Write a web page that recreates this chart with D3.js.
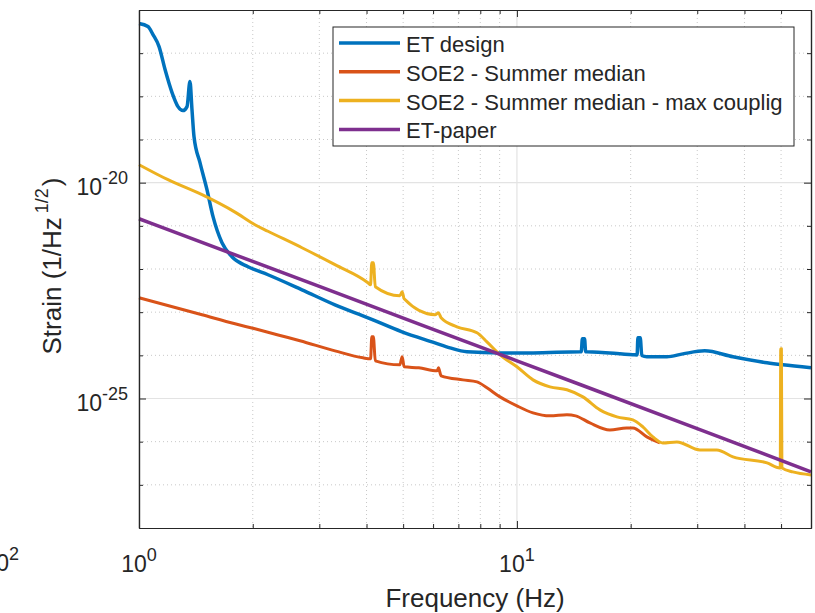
<!DOCTYPE html>
<html>
<head>
<meta charset="utf-8">
<script src="https://cdn.jsdelivr.net/npm/d3@7"></script>
<style>
  body { margin: 0; background: #fff; }
  svg text { font-family: "Liberation Sans", Arial, Helvetica, sans-serif; fill: #262626; }
</style>
</head>
<body>
<svg id="chart" width="815" height="613"></svg>
<script>
// ET design
const etFreq = [1.00, 1.056, 1.089, 1.13, 1.172, 1.223, 1.268, 1.307, 1.34, 1.364, 1.381, 1.398, 1.45, 1.513, 1.57, 1.658, 1.762, 1.943, 2.194, 2.699, 3.30, 4.035, 4.964, 6.07, 6.65, 7.37, 9.02, 11.03, 14.68, 14.8, 14.9, 15.1, 15.2, 15.32, 20.27, 20.8, 20.9, 21.2, 21.4, 22.07, 24.94, 27.5, 31.4, 37.3, 45.9, 50.5, 60];
const etDesign = [4.87e-17, 4.14e-17, 2.70e-17, 1.42e-17, 4.17e-18, 1.22e-18, 5.78e-19, 4.67e-19, 5.78e-19, 2.20e-18, 4.93e-19, 1.17e-19, 2.91e-20, 6.89e-21, 1.63e-21, 4.06e-22, 1.92e-22, 1.13e-22, 7.36e-23, 3.30e-23, 1.48e-23, 7.41e-24, 3.51e-24, 1.95e-24, 1.49e-24, 1.21e-24, 1.14e-24, 1.14e-24, 1.21e-24, 1.21e-24, 2.42e-24, 2.42e-24, 1.21e-24, 1.21e-24, 1.03e-24, 1.02e-24, 2.55e-24, 2.55e-24, 9.9e-25, 9.24e-25, 9.24e-25, 1.08e-24, 1.27e-24, 9.24e-25, 6.71e-25, 6.03e-25, 5.14e-25];

// SOE2 - Summer median
const medFreq = [1.0, 1.468, 1.795, 2.027, 2.434, 2.666, 3.30, 3.913, 4.10, 4.13, 4.17, 4.22, 4.90, 4.97, 5.03, 5.5, 6.15, 6.2, 6.3, 7.195, 7.84, 8.33, 9.02, 10.0, 11.03, 12.23, 13.56, 14.3, 15.6, 17.62, 19.5, 20.27, 22.07, 23.89];
const medValues = [2.16e-23, 8.7e-24, 5.38e-24, 4.12e-24, 2.69e-24, 2.17e-24, 1.27e-24, 8.75e-25, 8.30e-25, 2.69e-24, 2.69e-24, 7.46e-25, 6.03e-25, 9.24e-25, 5.42e-25, 5.14e-25, 4.38e-25, 5.14e-25, 3.35e-25, 2.70e-25, 2.43e-25, 1.77e-25, 1.09e-25, 6.76e-26, 4.65e-26, 3.96e-26, 4.18e-26, 3.96e-26, 2.72e-26, 1.87e-26, 2.08e-26, 2.08e-26, 1.29e-26, 9.37e-27];

// SOE2 - Summer median - max couplig
const maxFreq = [1.0, 1.193, 1.468, 1.795, 2.027, 2.194, 2.699, 3.30, 4.035, 4.10, 4.13, 4.17, 4.22, 4.90, 4.97, 5.03, 6.07, 6.2, 6.3, 6.94, 7.84, 8.33, 9.02, 10.0, 11.03, 12.23, 13.56, 14.95, 16.58, 18.39, 20.27, 21.54, 22.9, 24.33, 26.5, 30.5, 33.8, 37.3, 45.9, 49.6, 49.75, 49.9, 50.1, 50.25, 53.7, 60];
const maxValues = [2.61e-20, 1.17e-20, 5.27e-21, 2.08e-21, 1.06e-21, 7.50e-22, 3.11e-22, 1.26e-22, 4.80e-23, 4.3e-23, 1.40e-22, 1.40e-22, 3.88e-23, 2.40e-23, 2.97e-23, 2.04e-23, 8.7e-24, 9.68e-24, 7.41e-24, 4.58e-24, 3.33e-24, 2.06e-24, 1.03e-24, 5.42e-25, 2.70e-25, 1.86e-25, 1.59e-25, 1.09e-25, 5.46e-26, 3.75e-26, 3.20e-26, 2.20e-26, 1.29e-26, 9.37e-27, 9.88e-27, 6.44e-27, 6.44e-27, 4.44e-27, 3.22e-27, 2.47e-27, 2.47e-27, 1.42e-24, 1.42e-24, 2.47e-27, 1.99e-27, 1.70e-27];

// ET-paper
const paperFreq = [1, 3, 10, 30, 60];
const paperValues = [1.46e-21, 3.94e-23, 7.46e-25, 2.01e-26, 2.0e-27];

const seriesNames = ["ET design", "SOE2 - Summer median", "SOE2 - Summer median - max couplig", "ET-paper"];
const seriesColors = ["#0072BD", "#D95319", "#EDB120", "#7E2F8E"];

const xMajor = [1, 10];
const xMinor = [2, 3, 4, 5, 6, 7, 8, 9, 20, 30, 40, 50];
const yMajor = [1e-25, 1e-20];
const yMinor = [1e-27, 1e-26, 1e-24, 1e-23, 1e-22, 1e-21, 1e-19, 1e-18, 1e-17];
const xTickExp = ["0", "1"];
const yTickExp = ["-25", "-20"];

const svg = d3.select("#chart");
const pLeft = 139, pRight = 811, pTop = 10, pBottom = 528;

const x = d3.scaleLog().domain([1, 60]).range([pLeft, pRight]);
const y = d3.scaleLog().domain([1e-28, 1e-16]).range([pBottom, pTop]);

// grid
const grid = svg.append("g");
grid.selectAll(".xminor").data(xMinor).enter().append("line")
  .attr("x1", d => x(d)).attr("x2", d => x(d)).attr("y1", pTop).attr("y2", pBottom)
  .attr("stroke", "#c8c8c8").attr("stroke-width", 1).attr("stroke-dasharray", "1,3");
grid.selectAll(".yminor").data(yMinor).enter().append("line")
  .attr("y1", d => y(d)).attr("y2", d => y(d)).attr("x1", pLeft).attr("x2", pRight)
  .attr("stroke", "#c8c8c8").attr("stroke-width", 1).attr("stroke-dasharray", "1,3");
grid.selectAll(".xmajor").data(xMajor).enter().append("line")
  .attr("x1", d => x(d)).attr("x2", d => x(d)).attr("y1", pTop).attr("y2", pBottom)
  .attr("stroke", "#e3e3e3").attr("stroke-width", 1.2);
grid.selectAll(".ymajor").data(yMajor).enter().append("line")
  .attr("y1", d => y(d)).attr("y2", d => y(d)).attr("x1", pLeft).attr("x2", pRight)
  .attr("stroke", "#e3e3e3").attr("stroke-width", 1.2);

// lines
const line = d3.line().x(d => x(d[0])).y(d => y(d[1])).curve(d3.curveMonotoneX);
const sets = [
  [etFreq, etDesign, 3.5],
  [medFreq, medValues, 3],
  [maxFreq, maxValues, 3],
  [paperFreq, paperValues, 3.5]
];
sets.forEach((s, i) => {
  svg.append("path")
    .datum(d3.zip(s[0], s[1]))
    .attr("fill", "none")
    .attr("stroke", seriesColors[i])
    .attr("stroke-width", s[2])
    .attr("stroke-linejoin", "round")
    .attr("d", line);
});

// axes (box with inward ticks)
function axisStyle(g) {
  g.selectAll("path").attr("stroke", "#262626").attr("stroke-width", 1.2);
  g.selectAll("line").attr("stroke", "#262626");
}
svg.append("g").attr("transform", `translate(0,${pBottom})`)
  .call(d3.axisBottom(x).tickValues(xMinor).tickSizeInner(-4).tickSizeOuter(0).tickFormat("")).call(axisStyle);
svg.append("g").attr("transform", `translate(0,${pBottom})`)
  .call(d3.axisBottom(x).tickValues(xMajor).tickSizeInner(-7).tickSizeOuter(0).tickFormat("")).call(axisStyle);
svg.append("g").attr("transform", `translate(0,${pTop})`)
  .call(d3.axisTop(x).tickValues(xMinor).tickSizeInner(-4).tickSizeOuter(0).tickFormat("")).call(axisStyle);
svg.append("g").attr("transform", `translate(0,${pTop})`)
  .call(d3.axisTop(x).tickValues(xMajor).tickSizeInner(-7).tickSizeOuter(0).tickFormat("")).call(axisStyle);
svg.append("g").attr("transform", `translate(${pLeft},0)`)
  .call(d3.axisLeft(y).tickValues(yMinor).tickSizeInner(-4).tickSizeOuter(0).tickFormat("")).call(axisStyle);
svg.append("g").attr("transform", `translate(${pLeft},0)`)
  .call(d3.axisLeft(y).tickValues(yMajor).tickSizeInner(-7).tickSizeOuter(0).tickFormat("")).call(axisStyle);
svg.append("g").attr("transform", `translate(${pRight},0)`)
  .call(d3.axisRight(y).tickValues(yMinor).tickSizeInner(-4).tickSizeOuter(0).tickFormat("")).call(axisStyle);
svg.append("g").attr("transform", `translate(${pRight},0)`)
  .call(d3.axisRight(y).tickValues(yMajor).tickSizeInner(-7).tickSizeOuter(0).tickFormat("")).call(axisStyle);

// tick labels
function powLabel(px, py, exp, anchor) {
  const t = svg.append("text").attr("x", px).attr("y", py)
    .attr("text-anchor", anchor).style("font-size", "23px");
  t.append("tspan").text("10");
  t.append("tspan").attr("dy", -11).style("font-size", "18px").text(exp);
}
xMajor.forEach((v, i) => powLabel(x(v), 572, xTickExp[i], "middle"));
yMajor.forEach((v, i) => powLabel(128, y(v) + 12, yTickExp[i], "end"));
powLabel(19, 571, "2", "end");

// axis labels
svg.append("text").attr("x", (pLeft + pRight) / 2).attr("y", 607)
  .attr("text-anchor", "middle").style("font-size", "26px").text("Frequency (Hz)");
const yl = svg.append("text").attr("transform", "translate(61,266) rotate(-90)")
  .attr("text-anchor", "middle").style("font-size", "26px");
yl.append("tspan").text("Strain (1/Hz");
yl.append("tspan").attr("dx", 4).attr("dy", -13).style("font-size", "18px").text("1/2");
yl.append("tspan").attr("dx", 2).attr("dy", 13).text(")");

// legend
const lg = svg.append("g");
lg.append("rect").attr("x", 333).attr("y", 27).attr("width", 461).attr("height", 119)
  .attr("fill", "#fff").attr("stroke", "#262626").attr("stroke-width", 1);
seriesNames.forEach((name, i) => {
  const ly = 43 + i * 28.8;
  lg.append("line").attr("x1", 339).attr("x2", 400).attr("y1", ly).attr("y2", ly)
    .attr("stroke", seriesColors[i]).attr("stroke-width", 3.5);
  lg.append("text").attr("x", 406).attr("y", ly + 9).style("font-size", "22px").text(name);
});
</script>
</body>
</html>
